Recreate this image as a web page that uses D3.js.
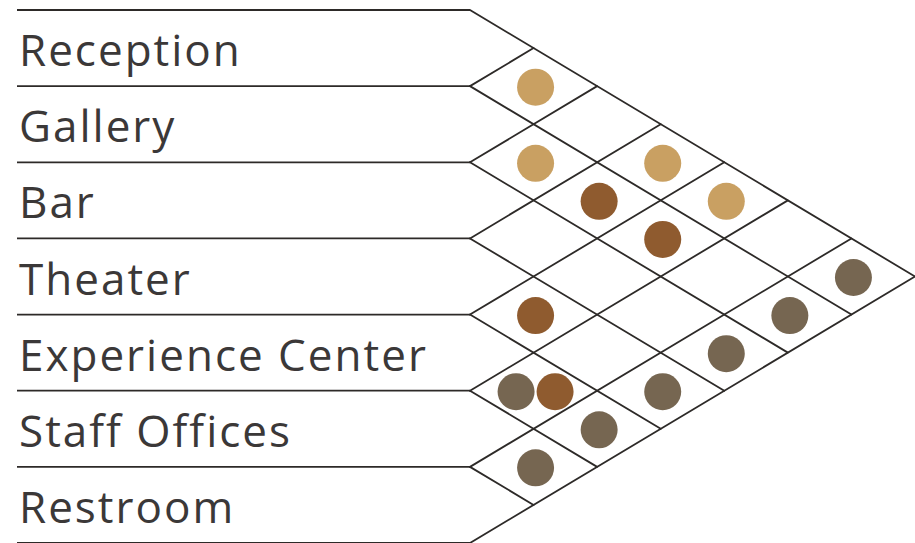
<!DOCTYPE html>
<html>
<head>
<meta charset="utf-8">
<script src="https://cdn.jsdelivr.net/npm/d3@7"></script>
<style>
  html, body { margin: 0; padding: 0; background: #fff; }
  svg { display: block; }
</style>
</head>
<body>
<svg id="chart" width="915" height="543"></svg>
<script>
// ---- data ----
const categories = ["Reception", "Gallery", "Bar", "Theater", "Experience Center", "Staff Offices", "Restroom"];
// link pairs: [source, target, type]
const linkSources = ["Reception", "Gallery", "Reception", "Gallery", "Reception", "Gallery", "Theater",
                     "Experience Center", "Experience Center", "Reception", "Gallery", "Bar", "Theater", "Experience Center", "Staff Offices"];
const linkTargets = ["Gallery", "Bar", "Theater", "Theater", "Experience Center", "Experience Center", "Experience Center",
                     "Staff Offices", "Staff Offices", "Restroom", "Restroom", "Restroom", "Restroom", "Restroom", "Restroom"];
const linkTypes   = ["public", "public", "public", "staff", "public", "staff", "staff",
                     "service", "staff", "service", "service", "service", "service", "service", "service"];
const typeNames = ["public", "staff", "service"];
const typeColors = ["#c9a062", "#8f5b2f", "#766651"];

// ---- layout ----
const svg = d3.select("#chart");
const W = 915, H = 543;
const left = 17, gridLeft = 470;

const y = d3.scaleBand().domain(categories).range([10, 543]).paddingInner(0).paddingOuter(0);
const n = categories.length;
const boundaries = d3.range(n + 1).map(i => i < n ? y(categories[i]) : y(categories[n - 1]) + y.bandwidth());
const x = d3.scaleLinear().domain([0, n]).range([gridLeft, W]);
const color = d3.scaleOrdinal().domain(typeNames).range(typeColors);
const yc = c => y(c) + y.bandwidth() / 2;

const lineColor = "#2d2a28";

// horizontal rules
svg.append("g").selectAll("line").data(boundaries).join("line")
  .attr("x1", left).attr("x2", gridLeft)
  .attr("y1", d => d).attr("y2", d => d)
  .attr("stroke", lineColor).attr("stroke-width", 1.8);

// diagonal grid
const diag = [];
boundaries.forEach((b, i) => {
  // down-right line to bottom edge
  if (i < n) diag.push({x1: x(0), y1: b, x2: x(n - i), y2: (b + boundaries[n]) / 2});
  // up-right line to top edge
  if (i > 0) diag.push({x1: x(0), y1: b, x2: x(i), y2: (b + boundaries[0]) / 2});
});
svg.append("g").selectAll("line").data(diag).join("line")
  .attr("x1", d => d.x1).attr("y1", d => d.y1)
  .attr("x2", d => d.x2).attr("y2", d => d.y2)
  .attr("stroke", lineColor).attr("stroke-width", 1.8)
  .attr("stroke-linecap", "round");

// labels
svg.append("g").selectAll("text").data(categories).join("text")
  .attr("x", 19)
  .attr("y", d => yc(d) + 18)
  .attr("fill", "#3b3838")
  .style("font-family", "'Open Sans', sans-serif")
  .style("font-size", "44px")
  .style("letter-spacing", "2px")
  .text(d => d);

// links
const links = linkSources.map((s, i) => ({s, t: linkTargets[i], type: linkTypes[i]}));
// offset dots sharing a cell
const cellCount = d3.rollup(links, v => v.length, d => d.s + "|" + d.t);
const cellIdx = new Map();
links.forEach(d => {
  const key = d.s + "|" + d.t;
  const k = cellIdx.get(key) || 0;
  cellIdx.set(key, k + 1);
  const cnt = cellCount.get(key);
  d.off = (k - (cnt - 1) / 2) * 39;
});
const idx = c => categories.indexOf(c);
svg.append("g").selectAll("circle").data(links).join("circle")
  .attr("cx", d => x(idx(d.t) - idx(d.s)) + d.off + 2)
  .attr("cy", d => (yc(d.s) + yc(d.t)) / 2 + 1)
  .attr("r", 18.5)
  .attr("fill", d => color(d.type));
</script>
</body>
</html>
